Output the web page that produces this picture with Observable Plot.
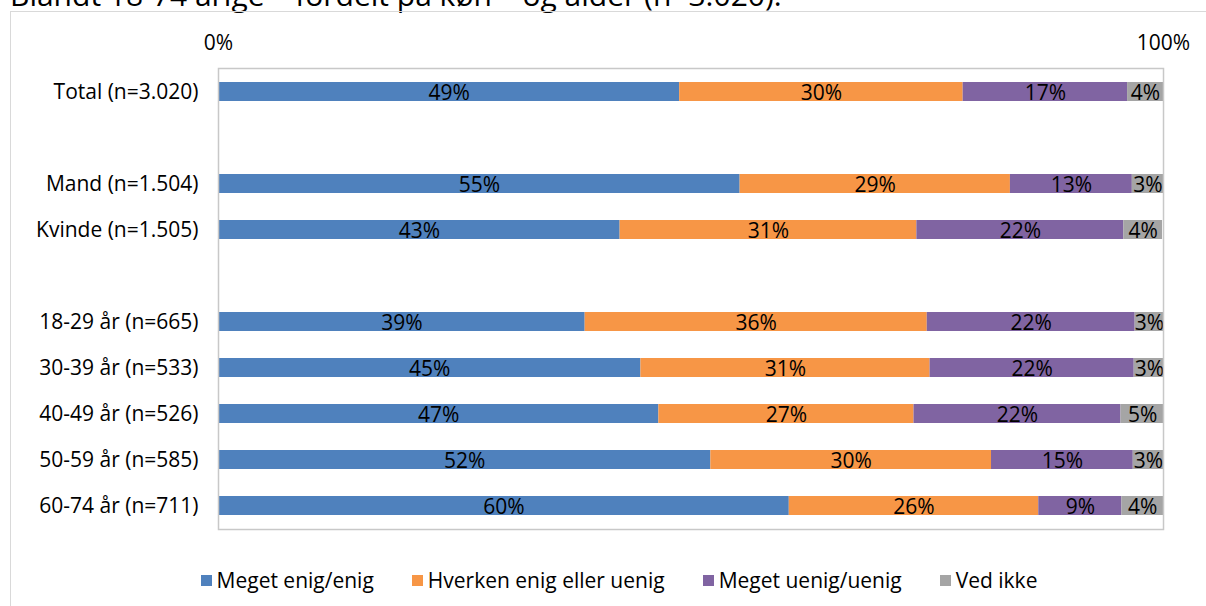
<!DOCTYPE html>
<html>
<head>
<meta charset="utf-8">
<script src="https://cdn.jsdelivr.net/npm/d3@7"></script>
<script src="https://cdn.jsdelivr.net/npm/@observablehq/plot@0.6"></script>
<style>
  html, body { margin: 0; padding: 0; background: #fff; overflow: hidden; width: 1206px; height: 606px; }
  body { position: relative; font-family: "Open Sans", sans-serif; }
  #title { position: absolute; left: 10px; top: -20px; font-size: 30px; line-height: 30px; color: #000; white-space: nowrap; }
  #box { position: absolute; left: 10px; top: 11px; width: 1300px; height: 700px; border-left: 1px solid #d9d9d9; border-top: 1px solid #d9d9d9; }
  #chart { position: absolute; left: 0; top: 0; }
  #legend { position: absolute; left: 10px; top: 565px; width: 1218px; display: flex; justify-content: center; }
  .lg-swatches-wrap { min-height: 30px !important; }
  .lg-swatches-wrap .lg-swatch { margin-right: 38px !important; }
  .lg-swatches-wrap .lg-swatch:last-child { margin-right: 0 !important; }
  .lg-swatch > svg { margin-right: 5px !important; }
</style>
</head>
<body>
<div id="title">Blandt 18-74 årige – fordelt på køn – og alder (n=3.020).</div>
<div id="box"></div>
<div id="chart"></div>
<div id="legend"></div>
<script>
const categories = ["Meget enig/enig", "Hverken enig eller uenig", "Meget uenig/uenig", "Ved ikke"];
const colors = ["#4F81BD", "#F79646", "#8064A2", "#A5A5A5"];
const groups = ["Total (n=3.020)", "gap1", "Mand (n=1.504)", "Kvinde (n=1.505)", "gap2",
  "18-29 år (n=665)", "30-39 år (n=533)", "40-49 år (n=526)", "50-59 år (n=585)", "60-74 år (n=711)"];
const dataGroups = ["Total (n=3.020)", "Mand (n=1.504)", "Kvinde (n=1.505)",
  "18-29 år (n=665)", "30-39 år (n=533)", "40-49 år (n=526)", "50-59 år (n=585)", "60-74 år (n=711)"];
const megetEnig = [48.8, 55.2, 42.5, 38.8, 44.7, 46.6, 52.1, 60.4];
const hverken   = [30.0, 28.6, 31.4, 36.2, 30.6, 27.0, 29.7, 26.4];
const uenig     = [17.4, 12.9, 21.9, 22.0, 21.6, 21.9, 15.0, 8.8];
const vedIkke   = [3.8, 3.3, 4.1, 3.0, 3.2, 4.6, 3.2, 4.4];
const xTicks = [0, 100];

const series = [megetEnig, hverken, uenig, vedIkke];
const data = [];
dataGroups.forEach((g, i) => {
  categories.forEach((c, j) => data.push({group: g, cat: c, value: series[j][i]}));
});

const font = "'Open Sans', sans-serif";
const chart = Plot.plot({
  width: 1206,
  height: 560,
  marginLeft: 218,
  marginRight: 43,
  marginTop: 68,
  marginBottom: 31,
  style: {fontFamily: font, fontSize: "21px", color: "#000", background: "transparent"},
  x: {domain: [0, 100], axis: null},
  y: {domain: groups, paddingInner: 0.59, paddingOuter: 0.295, axis: null},
  color: {domain: categories, range: colors},
  marks: [
    Plot.barX(data, Plot.stackX({x: "value", y: "group", fill: "cat"})),
    Plot.text(data, Plot.stackX({x: "value", y: "group", z: "cat",
      text: d => Math.round(d.value) + "%", fill: "#000", fontSize: 21, dy: 1})),
    Plot.frame({stroke: "#c8c8c8", strokeWidth: 1.5}),
    Plot.axisX({anchor: "top", ticks: xTicks, tickFormat: d => d + "%", tickSize: 0, tickPadding: 19, fontSize: 21, label: null}),
    Plot.axisY({anchor: "left", tickSize: 0, tickPadding: 20, fontSize: 21, label: null,
      tickFormat: d => d.startsWith("gap") ? "" : d})
  ]
});
document.getElementById("chart").appendChild(chart);

const legend = Plot.legend({
  color: {domain: categories, range: colors},
  legend: "swatches",
  swatchSize: 11,
  className: "lg",
  style: {fontFamily: font, fontSize: "21px", color: "#000"}
});
document.getElementById("legend").appendChild(legend);
</script>
</body>
</html>
